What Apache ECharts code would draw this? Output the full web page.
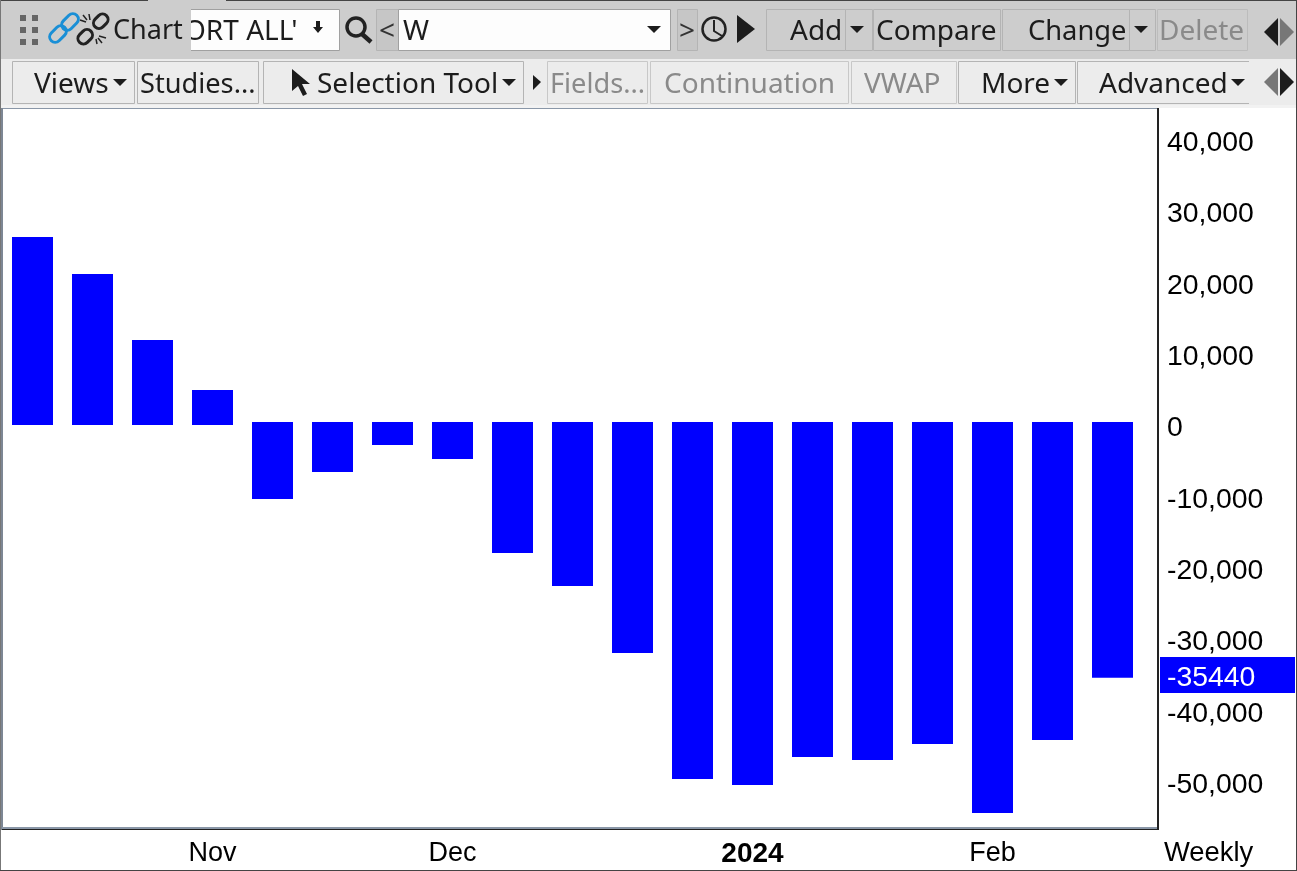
<!DOCTYPE html>
<html><head><meta charset="utf-8">
<style>html,body{margin:0;padding:0;background:#fff;overflow:hidden}#c{width:1297px;height:871px}</style>
<script src="https://cdn.jsdelivr.net/npm/echarts@6/dist/echarts.min.js"></script>
</head><body><div id="c"></div>
<script>
// ---- chart data ----
const weekLabels = ['', '', '', 'Nov', '', '', '', 'Dec', '', '', '', '', '2024', '', '', '', 'Feb', '', ''];
const netValues = [26360, 21170, 11920, 4900, -10370, -6590, -2800, -4770, -17950, -22570, -31960, -49630, -50470, -46550, -46970, -44720, -54390, -44160, -35440];
const yTicks = [40000, 30000, 20000, 10000, 0, -10000, -20000, -30000, -40000, -50000];
const periodLabel = 'Weekly';
const lastValue = netValues[netValues.length - 1];

// ---- toolbar chrome helpers ----
const UI = '"Noto Sans","Open Sans",sans-serif';
const AX = '"Liberation Sans",Arial,sans-serif';
const g = [];
const rect = (x, y, w, h, fill, stroke) => g.push({type: 'rect', z: 20, shape: {x, y, width: w, height: h}, style: {fill: fill || 'none', stroke: stroke || null, lineWidth: stroke ? 1 : 0}});
const text = (t, x, y, o) => g.push({type: 'text', z: 21, x, y, style: Object.assign({text: t, fill: '#1c1c1c', font: '28px ' + UI, textVerticalAlign: 'middle', textAlign: 'left'}, o || {})});
const poly = (pts, fill) => g.push({type: 'polygon', z: 21, shape: {points: pts}, style: {fill}});
const seg = (x1, y1, x2, y2, stroke, lw) => g.push({type: 'line', z: 21, shape: {x1, y1, x2, y2}, style: {stroke, lineWidth: lw}});
const link = (cx, cy, from, len, stroke) => g.push({type: 'rect', z: 21, x: cx, y: cy, rotation: Math.PI / 4, shape: {x: from, y: -5.5, width: len, height: 11, r: 5.5}, style: {fill: 'none', stroke, lineWidth: 3}});
const caret = (cx, cy, c) => poly([[cx - 7, cy - 3], [cx + 7, cy - 3], [cx, cy + 4]], c || '#1c1c1c');
const btn = (x, y, w, h, fill, stroke) => rect(x + .5, y + .5, w, h, fill, stroke || '#b4b4b4');
const GREY = '#8a8a8a';

// bands
rect(0, 0, 1297, 59, '#cdcdcd');
rect(0, 59, 1297, 46, '#ececec');
rect(0, 105, 1297, 3, '#f2f2f2');
rect(0, 0, 148, 1, '#444');
rect(226, 0, 1071, 1, '#444');
rect(0, 0, 1, 871, '#777');

// row 1
btn(190, 9, 149, 41, '#fdfdfd', '#a0a0a0');
text("ORT ALL'", 184, 32);
// the field text is scrolled: its left edge is hidden behind the toolbar
g.push({type: 'rect', z: 22, shape: {x: 110, y: 2, width: 81, height: 56}, style: {fill: '#cdcdcd'}});
g.push({type: 'text', z: 23, x: 113, y: 31, style: {text: 'Chart', fill: '#1c1c1c', font: '27px ' + UI, textVerticalAlign: 'middle', textAlign: 'left'}});
[20, 32].forEach(x => [15, 27, 39].forEach(y => rect(x, y, 6, 6, '#666')));
link(64, 28, -18, 19, '#1a8fd6');
link(64, 28, -1, 19, '#1a8fd6');
link(93, 29, -19, 16, '#222');
link(93, 29, 3, 16, '#222');
seg(80, 20, 86, 22, '#222', 1.5);
seg(83, 15, 87, 20, '#222', 1.5);
seg(89, 14, 90, 20, '#222', 1.5);
seg(99, 36, 106, 38, '#222', 1.5);
seg(98, 38, 102, 43, '#222', 1.5);
seg(96, 39, 97, 44, '#222', 1.5);
poly([[313, 27], [316, 27], [316, 21], [320, 21], [320, 27], [323, 27], [318, 33]], '#1c1c1c');
g.push({type: 'circle', z: 21, shape: {cx: 356, cy: 27, r: 9}, style: {fill: 'none', stroke: '#222', lineWidth: 3.5}});
seg(362, 34, 371, 42, '#222', 4.5);
btn(376, 9, 22, 41, '#c6c6c6');
text('<', 379, 32, {fill: '#333'});
btn(398, 9, 272, 41, '#fdfdfd', '#a0a0a0');
text('W', 403, 32);
caret(654, 29);
btn(677, 9, 20, 41, '#c6c6c6');
text('>', 679, 32, {fill: '#333'});
g.push({type: 'circle', z: 21, shape: {cx: 714, cy: 29, r: 11.5}, style: {fill: 'none', stroke: '#222', lineWidth: 2.5}});
g.push({type: 'polyline', z: 21, shape: {points: [[714, 20], [714, 31], [722, 36]]}, style: {fill: 'none', stroke: '#222', lineWidth: 2}});
poly([[737, 15], [755, 29], [737, 43]], '#1c1c1c');
btn(766, 9, 79, 41, 'none');
btn(845, 9, 27, 41, 'none');
text('Add', 790, 32);
caret(857, 29);
btn(873, 9, 127, 41, 'none');
text('Compare', 876, 32);
btn(1002, 9, 127, 41, 'none');
btn(1129, 9, 26, 41, 'none');
text('Change', 1028, 32, {font: '27.3px ' + UI});
caret(1141, 29);
btn(1157, 9, 90, 41, 'none', '#bcbcbc');
text('Delete', 1159, 32, {fill: GREY});
poly([[1278, 18], [1278, 46], [1264, 32]], '#1c1c1c');
poly([[1280, 18], [1280, 46], [1294, 32]], '#777');

// row 2
btn(12, 61, 122, 42, '#ececec');
text('Views', 34, 85);
caret(120, 82);
btn(137, 61, 121, 42, '#ececec');
text('Studies...', 140, 85, {font: '27.2px ' + UI});
btn(263, 61, 260, 42, '#ececec');
poly([[292, 69], [292, 91], [298, 86], [303, 96], [307, 94], [302, 84], [310, 84]], '#1c1c1c');
text('Selection Tool', 317, 85);
caret(509, 82);
poly([[533, 75], [541, 82], [533, 90]], '#1c1c1c');
btn(547, 61, 100, 42, '#ececec', '#c8c8c8');
text('Fields...', 550, 85, {fill: GREY, font: '27.2px ' + UI});
btn(650, 61, 198, 42, '#ececec', '#c8c8c8');
text('Continuation', 664, 85, {fill: GREY});
btn(851, 61, 105, 42, '#ececec', '#c8c8c8');
text('VWAP', 864, 85, {fill: GREY});
btn(958, 61, 117, 42, '#ececec');
text('More', 981, 85);
caret(1061, 82);
btn(1077, 61, 180, 42, '#ececec');
rect(1249, 60, 12, 45, '#ececec');
text('Advanced', 1099, 85);
caret(1238, 82);
poly([[1278, 68], [1278, 96], [1264, 82]], '#777');
poly([[1280, 68], [1280, 96], [1294, 82]], '#1c1c1c');

// plot frame
rect(2, 108, 1155, 1, '#8a97a8');
rect(1, 108, 2, 722, '#7d8794');
rect(2, 827, 1155, 2, '#8a97a8');
rect(2, 829, 1157, 1, '#222');
rect(1157, 108, 2, 722, '#222');
rect(1296, 0, 1, 871, '#444');
rect(0, 870, 1297, 1, '#444');

// axis furniture
rect(1160, 657, 135, 36, '#0000ff');
text(String(lastValue), 1167, 678, {fill: '#fff', font: '28.4px ' + AX});
text(periodLabel, 1164, 853, {fill: '#000', font: '27.4px ' + AX});

const chart = echarts.init(document.getElementById('c'), null, {renderer: 'canvas'});
chart.setOption({
  animation: false,
  backgroundColor: '#fff',
  grid: {left: 2.5, width: 1140, top: 109, height: 719, containLabel: false},
  xAxis: {
    type: 'category', data: weekLabels, position: 'bottom',
    axisLine: {show: false}, axisTick: {show: false}, splitLine: {show: false},
    axisLabel: {
      interval: 0, margin: 12, hideOverlap: false, color: '#000', fontFamily: AX, fontSize: 27,
      formatter: v => v === '2024' ? '{b|' + v + '}' : v,
      rich: {b: {fontWeight: 'bold', fontFamily: AX, fontSize: 28, color: '#000'}}
    }
  },
  yAxis: {
    type: 'value', position: 'right', min: -56500, max: 44300, scale: true,
    axisLine: {show: false}, axisTick: {show: false}, splitLine: {show: false},
    axisLabel: {
      customValues: yTicks, margin: 24.5, align: 'left', verticalAlign: 'top', lineHeight: 7,
      color: '#000', fontFamily: AX, fontSize: 28.4,
      formatter: v => Number(v).toLocaleString('en-US')
    }
  },
  series: [{
    type: 'custom', coordinateSystem: 'cartesian2d', clip: false,
    data: netValues.map((v, i) => [i, v]),
    encode: {x: 0, y: 1},
    renderItem(params, api) {
      const i = api.value(0), v = api.value(1);
      const end = api.coord([i, v]), base = api.coord([i, 0]);
      const w = 41, x = Math.round(end[0] - w / 2);
      // negative columns start a little above the zero line in the source chart
      const top = v >= 0 ? end[1] : base[1] - 3;
      const bottom = v >= 0 ? base[1] : end[1];
      return {type: 'rect', shape: {x, y: top, width: w, height: bottom - top}, style: {fill: '#0000ff'}};
    }
  }],
  graphic: {elements: g}
});
</script></body></html>
